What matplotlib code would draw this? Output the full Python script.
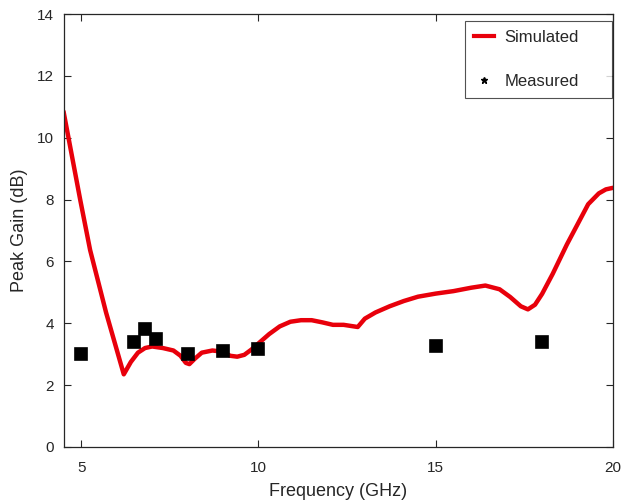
import matplotlib.pyplot as plt
from matplotlib.lines import Line2D

plt.rcParams['font.family'] = ['Liberation Sans', 'DejaVu Sans']

# Simulated peak gain
freq_sim = [4.5, 4.97, 5.25, 5.7, 6.2, 6.4, 6.6, 6.8, 7.0, 7.3, 7.6, 7.8, 7.95, 8.05,
            8.2, 8.4, 8.7, 9.0, 9.2, 9.4, 9.6, 9.8, 10.0, 10.3, 10.6, 10.9, 11.2,
            11.5, 11.8, 12.1, 12.4, 12.8, 13.0, 13.3, 13.7, 14.1, 14.5, 15.0, 15.5,
            16.0, 16.4, 16.8, 17.1, 17.4, 17.6, 17.8, 18.0, 18.3, 18.7, 19.0, 19.3,
            19.6, 19.8, 20.0]
gain_sim = [10.85, 8.0, 6.37, 4.35, 2.35, 2.75, 3.05, 3.2, 3.25, 3.2, 3.12, 2.95, 2.72, 2.68,
            2.85, 3.05, 3.12, 3.08, 2.95, 2.92, 2.98, 3.15, 3.35, 3.65, 3.9, 4.05, 4.1,
            4.1, 4.03, 3.95, 3.95, 3.88, 4.15, 4.35, 4.55, 4.72, 4.86, 4.96, 5.04,
            5.15, 5.22, 5.1, 4.85, 4.55, 4.45, 4.6, 4.95, 5.6, 6.55, 7.2, 7.85,
            8.2, 8.33, 8.38]

# Measured points
freq_meas = [5, 6.5, 6.8, 7.1, 8, 9, 10, 15, 18]
gain_meas = [3.0, 3.38, 3.82, 3.48, 3.0, 3.1, 3.18, 3.28, 3.4]

text_col = '#262626'
red = '#e8000b'

fig = plt.figure(figsize=(6.39, 5.04), dpi=100)
ax = fig.add_axes([0.0994, 0.1131, 0.8599, 0.8591])

ax.plot(freq_sim, gain_sim, color=red, linewidth=3.2, solid_capstyle='round',
        solid_joinstyle='round', zorder=2)
ax.plot(freq_meas, gain_meas, linestyle='none', marker='s', markersize=8,
        color='black', markeredgewidth=1.2, markeredgecolor='black',
        zorder=3)

ax.set_xlim(4.5, 20)
ax.set_ylim(0, 14)
ax.set_xticks([5, 10, 15, 20])
ax.set_yticks([0, 2, 4, 6, 8, 10, 12, 14])
ax.tick_params(direction='in', top=True, right=True, length=5, width=0.8,
               labelsize=11, colors=text_col)
ax.tick_params(axis='x', pad=10)
ax.tick_params(axis='y', pad=7)
for sp in ax.spines.values():
    sp.set_color(text_col)
    sp.set_linewidth(0.9)

ax.set_xlabel('Frequency (GHz)', fontsize=13, color=text_col, labelpad=6)
ax.set_ylabel('Peak Gain (dB)', fontsize=13, color=text_col, labelpad=6)

handles = [Line2D([], [], color=red, linewidth=3),
           Line2D([], [], linestyle='none', marker='*', markersize=5, color='black')]
leg = ax.legend(handles, ['Simulated', 'Measured'], loc='upper left',
                bbox_to_anchor=(0.7307, 0.7998, 0.2669, 0.1847), mode='expand',
                borderaxespad=0, fontsize=12, frameon=True, fancybox=False,
                labelspacing=1.75, handlelength=1.2, borderpad=0.55,
                handletextpad=0.6)
leg.get_frame().set_edgecolor(text_col)
leg.get_frame().set_linewidth(0.8)
for t in leg.get_texts():
    t.set_color(text_col)

fig.savefig('out.png', dpi=100)
